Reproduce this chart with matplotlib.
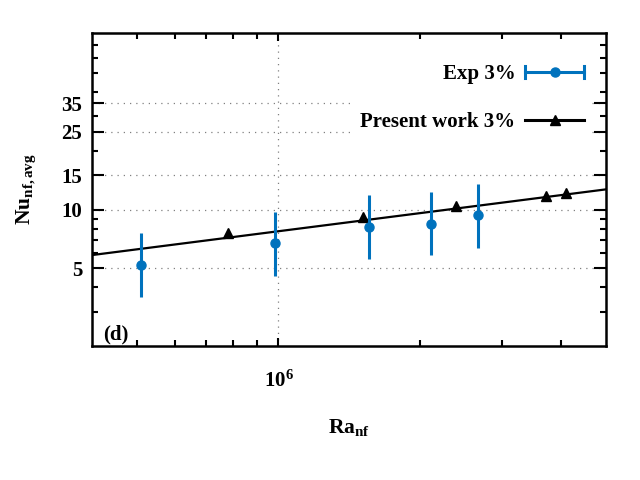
import matplotlib
matplotlib.use('Agg')
import matplotlib.pyplot as plt
from matplotlib.lines import Line2D
from matplotlib.legend_handler import HandlerLine2D
from matplotlib.ticker import FixedLocator, NullFormatter

# Dados
exp_ra = [5.08e5, 9.84e5, 1.563e6, 2.12e6, 2.67e6]
exp_nu = [5.18, 6.72, 8.11, 8.40, 9.38]
exp_lo = [3.55, 4.58, 5.56, 5.83, 6.38]
exp_hi = [7.56, 9.75, 11.83, 12.26, 13.47]

sim_ra = [7.79e5, 1.513e6, 2.39e6, 3.72e6, 4.10e6]
sim_nu = [7.61, 9.20, 10.47, 11.78, 12.20]

line_ra = [4e5, 5e6]
line_nu = [5.85, 12.7]

y_major = [5, 10, 15, 25, 35]
y_minor = [3, 4, 6, 7, 8, 9, 20, 30, 40, 50, 60, 70]
x_major = [1e6]
x_minor = [5e5, 6e5, 7e5, 8e5, 9e5, 2e6, 3e6, 4e6]

azul = '#0072bd'

plt.rcParams['font.family'] = ['Liberation Serif', 'DejaVu Serif']
plt.rcParams['font.weight'] = 'bold'
plt.rcParams['mathtext.fontset'] = 'custom'
plt.rcParams['mathtext.rm'] = 'Liberation Serif:bold'
plt.rcParams['mathtext.bf'] = 'Liberation Serif:bold'
plt.rcParams['mathtext.it'] = 'Liberation Serif:bold:italic'


class CappedHandler(HandlerLine2D):
    # linha com barrinhas nas pontas (estilo gnuplot)
    def create_artists(self, legend, orig_handle, xdescent, ydescent,
                       width, height, fontsize, trans):
        arts = super().create_artists(legend, orig_handle, xdescent, ydescent,
                                      width, height, fontsize, trans)
        y = (height - ydescent) / 2.
        h = 0.3 * fontsize
        for xc in (-xdescent, -xdescent + width):
            cap = Line2D([xc, xc], [y - h, y + h], color=orig_handle.get_color(),
                         lw=orig_handle.get_linewidth(), transform=trans)
            arts.append(cap)
        return arts


fig = plt.figure(figsize=(6.4, 4.8), dpi=100)
ax = fig.add_axes([0.1437, 0.279, 0.8033, 0.6516])
ax.set_xscale('log')
ax.set_yscale('log')

ax.plot(line_ra, line_nu, color='black', lw=1.6, zorder=3)
ax.plot(sim_ra, sim_nu, linestyle='none', marker='^', ms=7.5, color='black', zorder=4)

err_lo = [n - l for n, l in zip(exp_nu, exp_lo)]
err_hi = [h - n for n, h in zip(exp_nu, exp_hi)]
ax.errorbar(exp_ra, exp_nu, yerr=[err_lo, err_hi], fmt='o', color=azul, ms=6.5,
            elinewidth=2.2, capsize=0, zorder=5)

ax.set_xlim(4e5, 5e6)
ax.set_ylim(2, 80)

ax.xaxis.set_major_locator(FixedLocator(x_major))
ax.xaxis.set_minor_locator(FixedLocator(x_minor))
ax.xaxis.set_minor_formatter(NullFormatter())
ax.set_xticks(x_major, [r'$\mathrm{10^{6}}$'])
ax.yaxis.set_major_locator(FixedLocator(y_major))
ax.yaxis.set_minor_locator(FixedLocator(y_minor))
ax.yaxis.set_minor_formatter(NullFormatter())
ax.set_yticks(y_major, [str(v) for v in y_major])

ax.tick_params(which='both', direction='in', top=True, right=True, width=1.5,
               labelsize=15)
ax.tick_params(axis='y', which='major', length=8.5, pad=7)
ax.tick_params(axis='y', which='minor', length=4.5)
ax.tick_params(axis='x', which='major', length=6, pad=18)
ax.tick_params(axis='x', which='minor', length=4.5)
for s in ax.spines.values():
    s.set_linewidth(1.8)

ax.grid(True, which='major', color='gray', linestyle=(0, (1, 4)), lw=0.9)

ax.set_xlabel(r'$\mathrm{Ra}_{\mathrm{nf}}$', fontsize=15.5, labelpad=18)
ax.set_ylabel(r'$\mathrm{Nu}_{\mathrm{nf,avg}}$', fontsize=15.5, labelpad=17)

ax.text(0.021, 0.036, '(d)', transform=ax.transAxes, fontsize=15,
        fontweight='bold', ha='left', va='center')

h_exp = Line2D([], [], color=azul, lw=2.2, marker='o', ms=6.5)
h_sim = Line2D([], [], color='black', lw=2.2, marker='^', ms=7.5)
leg = ax.legend([h_exp, h_sim], ['Exp 3%', 'Present work 3%'], loc='upper right',
                bbox_to_anchor=(0.99, 0.955), markerfirst=False, numpoints=1,
                handlelength=2.85, handletextpad=0.45, labelspacing=1.35,
                fontsize=15, frameon=True, fancybox=False, framealpha=1,
                edgecolor='none', facecolor='white', borderpad=0.3,
                handler_map={h_exp: CappedHandler()})
leg.set_zorder(6)

plt.savefig('out.png', dpi=100)
